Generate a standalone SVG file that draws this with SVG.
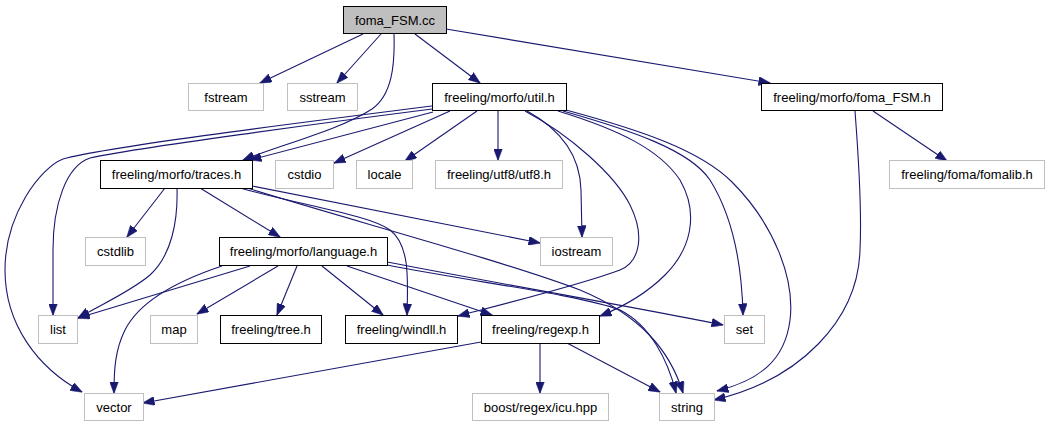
<svg xmlns="http://www.w3.org/2000/svg" width="1049" height="427" viewBox="0 0 1049 427">
<style>
rect{stroke-width:1;fill:#ffffff}
.g rect{stroke:#bfbfbf}
.b rect{stroke:#000000}
.r rect{stroke:#000000;fill:#bfbfbf}
text{font-family:"Liberation Sans",Arial,sans-serif;font-size:13px;fill:#000000;text-anchor:middle}
#edges path{fill:none;stroke:#191970;stroke-width:1.1;marker-end:url(#ah)}
</style>
<defs>
<marker id="ah" viewBox="0 0 12 9" refX="11.5" refY="4.5" markerWidth="12" markerHeight="9" markerUnits="userSpaceOnUse" orient="auto">
<path d="M0,0 L12,4.5 L0,9 Z" fill="#191970" stroke="#191970" stroke-width="0.5"/>
</marker>
</defs>
<rect x="0" y="0" width="1049" height="427" fill="#ffffff" stroke="none"/>
<g id="edges">
<path d="M363,34 L260,83"/>
<path d="M381,34 L337,83"/>
<path d="M415,34 L480,83"/>
<path d="M446,29 L770,83"/>
<path d="M394,34 C395,65 392,95 372,109 C340,130 280,145 243,160"/>
<path d="M433,112 L250,160"/>
<path d="M432,106 C330,119 110,146 63,159 C40,168 5,215 5,270 C5,325 38,368 82,392"/>
<path d="M432,109 C330,122 135,148 90,158 C66,166 53,205 53,250 L53,315"/>
<path d="M450,111 L334,163"/>
<path d="M477,111 L405,161"/>
<path d="M498,111 L498,160"/>
<path d="M527,111 C558,128 580,152 581,190 L582,237"/>
<path d="M525,111 C570,135 615,175 630,205 C645,235 640,262 620,270 C580,285 500,305 458,316"/>
<path d="M558,111 C620,130 660,150 680,180 C700,215 690,250 665,275 C645,295 620,308 600,316"/>
<path d="M563,111 C630,130 690,150 710,180 C735,220 742,270 743,315"/>
<path d="M566,110 C640,130 700,150 732,182 C775,225 795,280 790,320 C785,360 760,380 717,391"/>
<path d="M855,111 C858,150 862,210 860,250 C858,320 800,380 714,400"/>
<path d="M873,111 L947,161"/>
<path d="M165,188 L127,237"/>
<path d="M177,188 C178,220 172,255 150,275 C130,292 100,305 78,318"/>
<path d="M200,188 L280,237"/>
<path d="M252,186 L540,243"/>
<path d="M240,188 C300,205 370,215 390,230 C410,245 408,280 407,315"/>
<path d="M247,188 C350,220 500,260 580,290 C640,315 670,350 683,393"/>
<path d="M250,266 L78,318"/>
<path d="M222,266 C180,280 140,300 125,330 C115,350 114,370 114,393"/>
<path d="M278,266 L197,314"/>
<path d="M297,266 L277,315"/>
<path d="M322,266 L383,315"/>
<path d="M347,266 L492,315"/>
<path d="M387,262 C480,280 650,310 723,325"/>
<path d="M387,265 C480,283 580,295 620,310 C650,325 668,360 676,393"/>
<path d="M481,342 L143,403"/>
<path d="M540,343 L540,393"/>
<path d="M567,343 L660,392"/>
</g>
<g id="n_cc" class="r"><rect x="343.5" y="6.5" width="103" height="27"/><text x="395" y="24.5">foma_FSM.cc</text></g>
<g id="n_fstream" class="g"><rect x="188.5" y="83.5" width="75" height="27"/><text x="226" y="101.5">fstream</text></g>
<g id="n_sstream" class="g"><rect x="287.5" y="83.5" width="70" height="27"/><text x="322.5" y="101.5">sstream</text></g>
<g id="n_util" class="b"><rect x="432.5" y="83.5" width="134" height="27"/><text x="499.5" y="101.5">freeling/morfo/util.h</text></g>
<g id="n_fomah" class="b"><rect x="761.5" y="83.5" width="181" height="27"/><text x="852" y="101.5">freeling/morfo/foma_FSM.h</text></g>
<g id="n_fomalib" class="g"><rect x="889.5" y="160.5" width="155" height="28"/><text x="967" y="179">freeling/foma/fomalib.h</text></g>
<g id="n_traces" class="b"><rect x="100.5" y="160.5" width="152" height="28"/><text x="176.5" y="179">freeling/morfo/traces.h</text></g>
<g id="n_cstdio" class="g"><rect x="275.5" y="160.5" width="58" height="28"/><text x="304.5" y="179">cstdio</text></g>
<g id="n_locale" class="g"><rect x="356.5" y="160.5" width="56" height="28"/><text x="384.5" y="179">locale</text></g>
<g id="n_utf8" class="g"><rect x="435.5" y="160.5" width="127" height="28"/><text x="499" y="179">freeling/utf8/utf8.h</text></g>
<g id="n_cstdlib" class="g"><rect x="85.5" y="237.5" width="60" height="28"/><text x="115.5" y="256">cstdlib</text></g>
<g id="n_language" class="b"><rect x="219.5" y="237.5" width="168" height="28"/><text x="303.5" y="256">freeling/morfo/language.h</text></g>
<g id="n_iostream" class="g"><rect x="540.5" y="237.5" width="72" height="28"/><text x="576.5" y="256">iostream</text></g>
<g id="n_list" class="g"><rect x="38.5" y="315.5" width="39" height="28"/><text x="58" y="334">list</text></g>
<g id="n_map" class="g"><rect x="150.5" y="315.5" width="47" height="28"/><text x="174" y="334">map</text></g>
<g id="n_tree" class="b"><rect x="220.5" y="315.5" width="101" height="28"/><text x="271" y="334">freeling/tree.h</text></g>
<g id="n_windll" class="b"><rect x="345.5" y="315.5" width="112" height="28"/><text x="401.5" y="334">freeling/windll.h</text></g>
<g id="n_regexp" class="b"><rect x="481.5" y="315.5" width="118" height="28"/><text x="540.5" y="334">freeling/regexp.h</text></g>
<g id="n_set" class="g"><rect x="724.5" y="315.5" width="40" height="28"/><text x="744.5" y="334">set</text></g>
<g id="n_vector" class="g"><rect x="84.5" y="393.5" width="59" height="27"/><text x="114" y="411.5">vector</text></g>
<g id="n_boost" class="g"><rect x="472.5" y="393.5" width="136" height="27"/><text x="540.5" y="411.5">boost/regex/icu.hpp</text></g>
<g id="n_string" class="g"><rect x="659.5" y="393.5" width="55" height="27"/><text x="687" y="411.5">string</text></g>
</svg>
